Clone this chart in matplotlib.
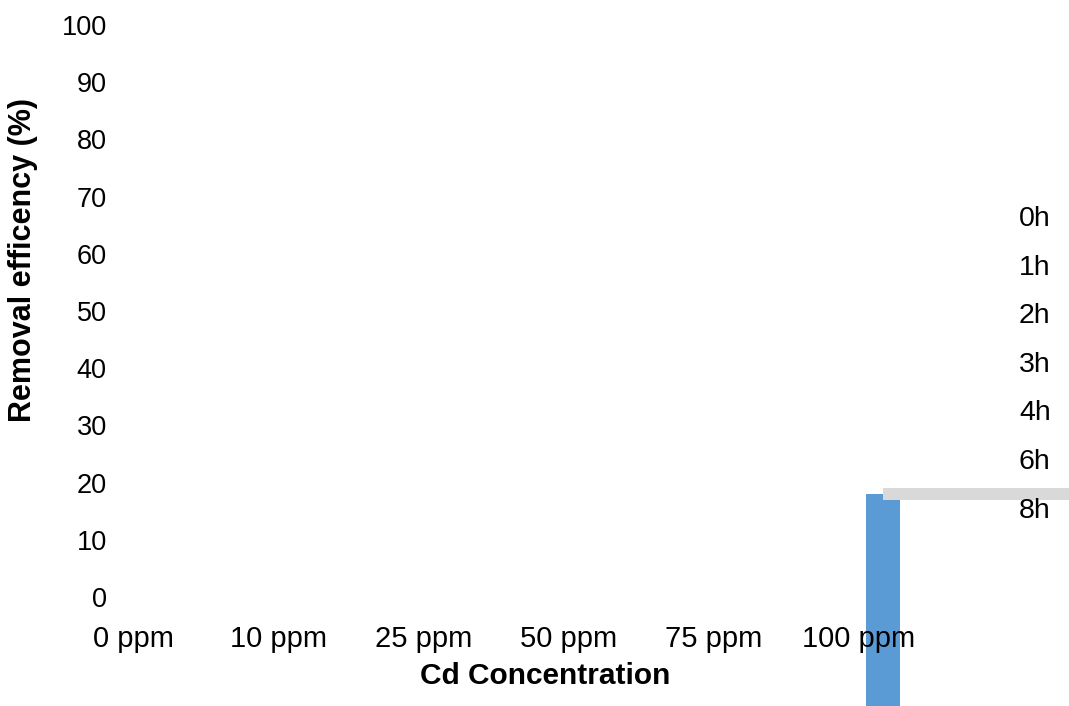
import matplotlib
matplotlib.use("Agg")
import matplotlib.pyplot as plt
import numpy as np

plt.rcParams['font.family'] = ['Liberation Sans', 'DejaVu Sans']

# ---------------- DATA ----------------
concentrations = ["0 ppm", "10 ppm", "25 ppm", "50 ppm", "75 ppm", "100 ppm"]
times = ["0h", "1h", "2h", "3h", "4h", "6h", "8h"]
y_ticks = [0, 10, 20, 30, 40, 50, 60, 70, 80, 90, 100]
bar_value = 18.0      # 0h at 100 ppm
line_value = 18.0     # 8h trace

W, H = 1069, 706
fig = plt.figure(figsize=(W / 100, H / 100), dpi=100)

# axes box in pixels: left 115, bottom edge at y=597 (0) up to y=25 (100)
left, right, top, bottom = 115, 1069, 25, 597
ax = fig.add_axes([left / W, (H - bottom) / H, (right - left) / W, (bottom - top) / H])

x = np.arange(len(concentrations))
x0, step = 133.0, 145.1
ax.set_xlim((left - x0) / step, (right - x0) / step)
ax.set_ylim(0, 100)

# blue bar hangs below the baseline, clipped by figure edge
base = -20
ax.bar(x[-1] + 0.17, bar_value - base, bottom=base, width=0.23,
       color="#5B9BD5", clip_on=False, zorder=1)

# grey 8h trace running off to the right
ax.plot([x[-1] + 0.17, x[-1] + 2.0], [line_value, line_value],
        color="#D9D9D9", lw=8.6, solid_capstyle="butt", clip_on=False, zorder=1)

ax.set_xticks(x)
ax.set_xticklabels(concentrations)
ax.set_yticks(y_ticks)
ax.tick_params(axis="both", length=0, colors="black")
ax.tick_params(axis="y", pad=6, labelsize=19.5)
ax.tick_params(axis="x", pad=20, labelsize=21)
for s in ax.spines.values():
    s.set_visible(False)
ax.patch.set_alpha(0)

fig.text(23.5 / W, 1 - 260 / H, "Removal efficency (%)", rotation=90,
         ha="center", va="center", fontsize=22, fontweight="bold")
fig.text(545 / W, 1 - 684 / H, "Cd Concentration",
         ha="center", va="baseline", fontsize=21.5, fontweight="bold")

# series labels down the right side
for i, t in enumerate(times):
    fig.text(1019 / W, 1 - (226 + 48.6 * i) / H, t, ha="left", va="baseline", fontsize=20.5)

fig.savefig("out.png", dpi=100)
